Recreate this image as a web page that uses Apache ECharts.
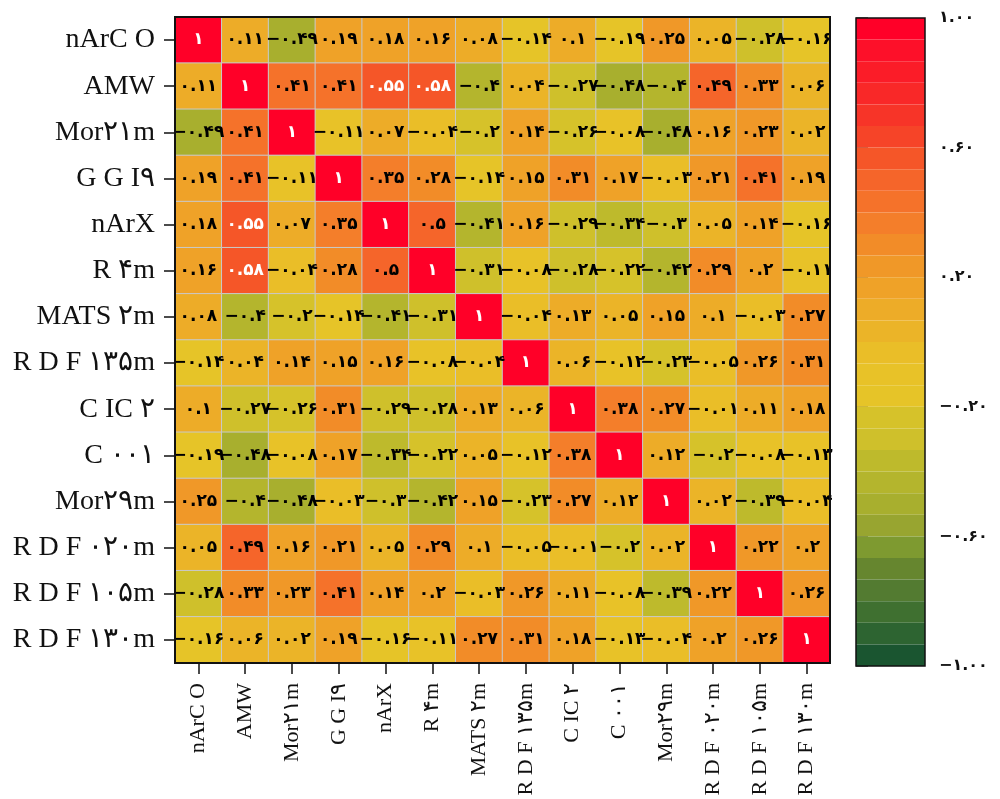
<!DOCTYPE html>
<html>
<head>
<meta charset="utf-8">
<script src="https://cdn.jsdelivr.net/npm/echarts@6/dist/echarts.min.js"></script>
<style>
  html, body { margin: 0; padding: 0; background: #fff; }
  #chart { width: 1000px; height: 799px; }
</style>
</head>
<body>
<div id="chart"></div>
<script>
// Variable names (rows top-to-bottom, columns left-to-right)
const variables = ['nArC O', 'AMW', 'Mor۲۱m', 'G G I۹', 'nArX', 'R ۴m', 'MATS ۲m',
  'R D F ۱۳۵m', 'C IC ۲', 'C ۰۰۱', 'Mor۲۹m', 'R D F ۰۲۰m', 'R D F ۱۰۵m', 'R D F ۱۳۰m'];

// Correlation matrix rows
const corr = [
  [1, 0.11, -0.49, 0.19, 0.18, 0.16, 0.08, -0.14, 0.1, -0.19, 0.25, 0.05, -0.28, -0.16],
  [0.11, 1, 0.41, 0.41, 0.55, 0.58, -0.4, 0.04, -0.27, -0.48, -0.4, 0.49, 0.33, 0.06],
  [-0.49, 0.41, 1, -0.11, 0.07, -0.04, -0.2, 0.14, -0.26, -0.08, -0.48, 0.16, 0.23, 0.02],
  [0.19, 0.41, -0.11, 1, 0.35, 0.28, -0.14, 0.15, 0.31, 0.17, -0.03, 0.21, 0.41, 0.19],
  [0.18, 0.55, 0.07, 0.35, 1, 0.5, -0.41, 0.16, -0.29, -0.34, -0.3, 0.05, 0.14, -0.16],
  [0.16, 0.58, -0.04, 0.28, 0.5, 1, -0.31, -0.08, -0.28, -0.22, -0.42, 0.29, 0.2, -0.11],
  [0.08, -0.4, -0.2, -0.14, -0.41, -0.31, 1, -0.04, 0.13, 0.05, 0.15, 0.1, -0.03, 0.27],
  [-0.14, 0.04, 0.14, 0.15, 0.16, -0.08, -0.04, 1, 0.06, -0.12, -0.23, -0.05, 0.26, 0.31],
  [0.1, -0.27, -0.26, 0.31, -0.29, -0.28, 0.13, 0.06, 1, 0.38, 0.27, -0.01, 0.11, 0.18],
  [-0.19, -0.48, -0.08, 0.17, -0.34, -0.22, 0.05, -0.12, 0.38, 1, 0.12, -0.2, -0.08, -0.13],
  [0.25, -0.4, -0.48, -0.03, -0.3, -0.42, 0.15, -0.23, 0.27, 0.12, 1, 0.02, -0.39, -0.04],
  [0.05, 0.49, 0.16, 0.21, 0.05, 0.29, 0.1, -0.05, -0.01, -0.2, 0.02, 1, 0.22, 0.2],
  [-0.28, 0.33, 0.23, 0.41, 0.14, 0.2, -0.03, 0.26, 0.11, -0.08, -0.39, 0.22, 1, 0.26],
  [-0.16, 0.06, 0.02, 0.19, -0.16, -0.11, 0.27, 0.31, 0.18, -0.13, -0.04, 0.2, 0.26, 1]
];

// Colour bar range and tick step
const colorbarMin = -1;
const colorbarMax = 1;
const colorbarStep = 0.4;

// Discrete colormap, 30 steps from -1 (green) to +1 (red)
const colormap = [
  '#1A5530', '#2D6431', '#3F7030', '#537B31', '#66862F', '#7E9A30',
  '#98A530', '#A8AF2E', '#B4B52D', '#BEBA2C', '#CFC02B', '#D6C22A',
  '#E6C428', '#E8C228', '#EABE28', '#EBB428', '#EDAC28', '#EFA228',
  '#F09828', '#F28C28', '#F47E2A', '#F5722A', '#F5652A', '#F55628',
  '#F64428', '#F73428', '#F92828', '#FB1C28', '#FD1029', '#FF0028'
];

const faDigits = '۰۱۲۳۴۵۶۷۸۹';
function toFa(s) {
  return String(s).replace(/[0-9]/g, d => faDigits[+d]).replace('-', '−');
}

const cells = [];
corr.forEach((row, i) => {
  row.forEach((v, j) => {
    cells.push({
      value: [j, i, v],
      label: { color: v >= 0.52 ? '#ffffff' : '#000000' }
    });
  });
});

const chart = echarts.init(document.getElementById('chart'), null, { renderer: 'canvas' });
chart.setOption({
  backgroundColor: '#ffffff',
  animation: false,
  grid: [
    { left: 175, top: 17, width: 655, height: 646, show: true, borderColor: '#111', borderWidth: 2,
      backgroundColor: 'transparent', z: 10, containLabel: false, outerBoundsMode: 'none' },
    { left: 856, top: 18, width: 69, height: 648, show: true, borderColor: '#111', borderWidth: 1.5,
      backgroundColor: 'transparent', z: 10, containLabel: false, outerBoundsMode: 'none' }
  ],
  xAxis: [
    {
      type: 'category', data: variables, gridIndex: 0, position: 'bottom',
      axisLine: { show: true, lineStyle: { color: '#111', width: 2 } },
      axisTick: { show: true, alignWithLabel: true, length: 11, lineStyle: { color: '#111', width: 1.5 } },
      axisLabel: { rotate: 90, margin: 20, fontSize: 22, fontFamily: 'Liberation Serif', color: '#111', interval: 0 },
      splitLine: { show: false }
    },
    { type: 'value', gridIndex: 1, show: false, min: 0, max: 1 }
  ],
  yAxis: [
    {
      type: 'category', data: variables, gridIndex: 0, inverse: true,
      axisLine: { show: true, lineStyle: { color: '#111', width: 2 } },
      axisTick: { show: true, alignWithLabel: true, length: 11, lineStyle: { color: '#111', width: 1.5 } },
      axisLabel: { margin: 20, fontSize: 28, fontFamily: 'Liberation Serif', color: '#111', interval: 0 },
      splitLine: { show: false }
    },
    {
      type: 'value', gridIndex: 1, position: 'right', min: colorbarMin, max: colorbarMax, interval: colorbarStep,
      axisLine: { show: false },
      axisTick: { show: true, length: 12, lineStyle: { color: '#555', width: 1.5 } },
      axisLabel: { margin: 14, fontSize: 16, fontWeight: 'bold', fontFamily: 'DejaVu Sans', color: '#111',
        formatter: v => toFa(v.toFixed(2)) },
      splitLine: { show: false }
    }
  ],
  visualMap: {
    type: 'piecewise',
    min: colorbarMin, max: colorbarMax, splitNumber: 30,
    seriesIndex: 0,
    orient: 'vertical',
    left: 856, top: 18,
    padding: 0,
    itemWidth: 69, itemHeight: 648 / 30, itemGap: 0,
    itemSymbol: 'rect',
    showLabel: false,
    hoverLink: false,
    selectedMode: false,
    inRange: { color: colormap }
  },
  series: [{
    type: 'heatmap',
    xAxisIndex: 0, yAxisIndex: 0,
    data: cells,
    itemStyle: { borderColor: '#c9c9c9', borderWidth: 1 },
    label: {
      show: true, fontSize: 17, fontWeight: 'bold', fontFamily: 'DejaVu Sans',
      formatter: p => toFa(p.value[2])
    },
    emphasis: { disabled: true }
  }]
});
</script>
</body>
</html>
